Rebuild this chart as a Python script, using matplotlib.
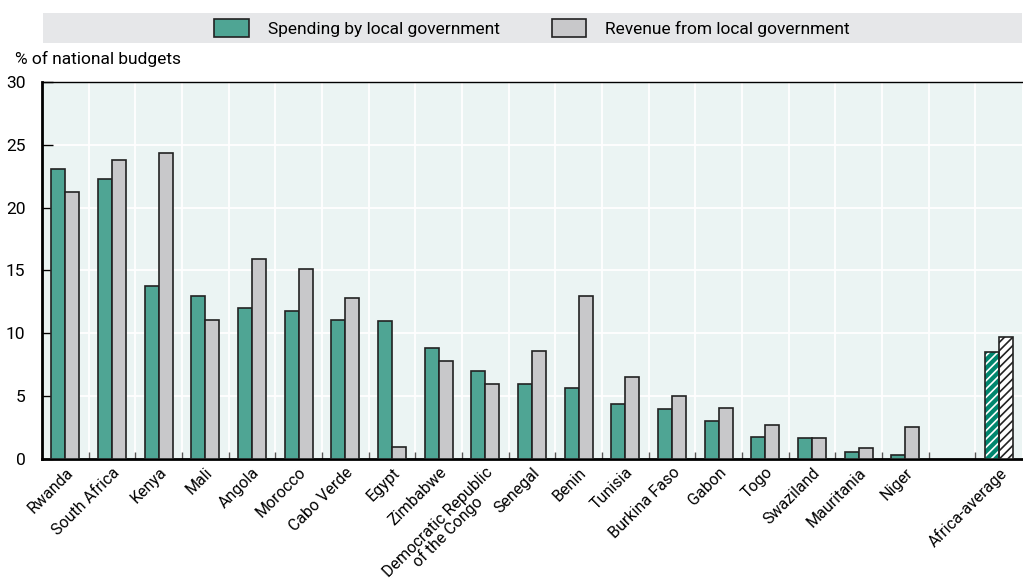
import matplotlib.pyplot as plt
import matplotlib.patches as mpatches
import numpy as np

plt.rcParams['font.family'] = ['Liberation Sans Narrow', 'Roboto', 'DejaVu Sans']
plt.rcParams['hatch.linewidth'] = 1.2

countries = ['Rwanda', 'South Africa', 'Kenya', 'Mali', 'Angola', 'Morocco',
             'Cabo Verde', 'Egypt', 'Zimbabwe', 'Democratic Republic\nof the Congo',
             'Senegal', 'Benin', 'Tunisia', 'Burkina Faso', 'Gabon', 'Togo',
             'Swaziland', 'Mauritania', 'Niger']
spending = [23.1, 22.3, 13.8, 13.0, 12.0, 11.8, 11.1, 11.0, 8.8, 7.0,
            6.0, 5.7, 4.4, 4.0, 3.0, 1.8, 1.7, 0.6, 0.3]
revenue = [21.2, 23.8, 24.3, 11.1, 15.9, 15.1, 12.8, 1.0, 7.8, 6.0,
           8.6, 13.0, 6.5, 5.0, 4.1, 2.7, 1.7, 0.9, 2.6]
avg_label = 'Africa-average'
avg_spending = 8.5
avg_revenue = 9.7

teal = '#4fa594'
grey = '#c8c8ca'
bg = '#ebf4f3'

fig = plt.figure(figsize=(10.23, 5.88), dpi=100)
ax = fig.add_axes([0.041, 0.219, 0.958, 0.642])
ax.set_facecolor(bg)

n = len(countries)
x = np.arange(n)
w = 0.3
ax.bar(x - w / 2, spending, w, color=teal, edgecolor='#222222', linewidth=1.2, zorder=3)
ax.bar(x + w / 2, revenue, w, color=grey, edgecolor='#222222', linewidth=1.2, zorder=3)

# Africa average, hatched, after an empty slot
xa = n + 1
ax.bar(xa - w / 2, avg_spending, w, color='#00866e', edgecolor='white', hatch='////',
       linewidth=0, zorder=3)
ax.bar(xa - w / 2, avg_spending, w, color='none', edgecolor='#222222', linewidth=1.2, zorder=4)
ax.bar(xa + w / 2, avg_revenue, w, color='white', edgecolor='#222222', hatch='////',
       linewidth=1.2, zorder=3)

ax.set_xlim(-0.5, n + 1.5)
ax.set_ylim(0, 30)
ax.set_yticks(range(0, 31, 5))
ax.tick_params(axis='y', direction='in', length=8, width=1, labelsize=12.5, pad=12)

# white grid: horizontal at y ticks, vertical at category boundaries
for yv in range(5, 31, 5):
    ax.axhline(yv, color='white', linewidth=1.3, zorder=1)
for b in np.arange(0.5, n + 1, 1):
    ax.axvline(b, color='white', linewidth=1.3, zorder=1)

ax.set_xticks(np.arange(0.5, n + 1, 1), minor=True)
ax.tick_params(axis='x', which='minor', direction='in', length=5, color='#555555', width=1)
ax.set_xticks(list(x) + [xa])
ax.set_xticklabels(countries + [avg_label], rotation=45, ha='right',
                   rotation_mode='anchor', fontsize=11.5, linespacing=0.85)
ax.tick_params(axis='x', which='major', length=0, pad=4)
for lab in ax.get_xticklabels():
    lab.set_multialignment('center')

for s in ['left', 'bottom']:
    ax.spines[s].set_linewidth(2)
    ax.spines[s].set_color('black')
ax.spines['top'].set_linewidth(1)
ax.spines['right'].set_visible(False)

fig.text(0.015, 0.9, '% of national budgets', fontsize=12.5, va='center', ha='left')

# legend band
fig.patches.append(mpatches.Rectangle((0.042, 0.927), 0.957, 0.051, transform=fig.transFigure,
                                      facecolor='#e6e7e9', edgecolor='none', zorder=0))
handles = [mpatches.Patch(facecolor=teal, edgecolor='#222222', linewidth=1.2),
           mpatches.Patch(facecolor=grey, edgecolor='#222222', linewidth=1.2)]
fig.legend(handles, ['Spending by local government', 'Revenue from local government'],
           loc='center', bbox_to_anchor=(0.52, 0.9525), ncol=2, frameon=False,
           fontsize=12.5, handlelength=2.0, handleheight=1.2, columnspacing=3.0,
           handletextpad=1.1)

fig.savefig('out.png', dpi=100)
